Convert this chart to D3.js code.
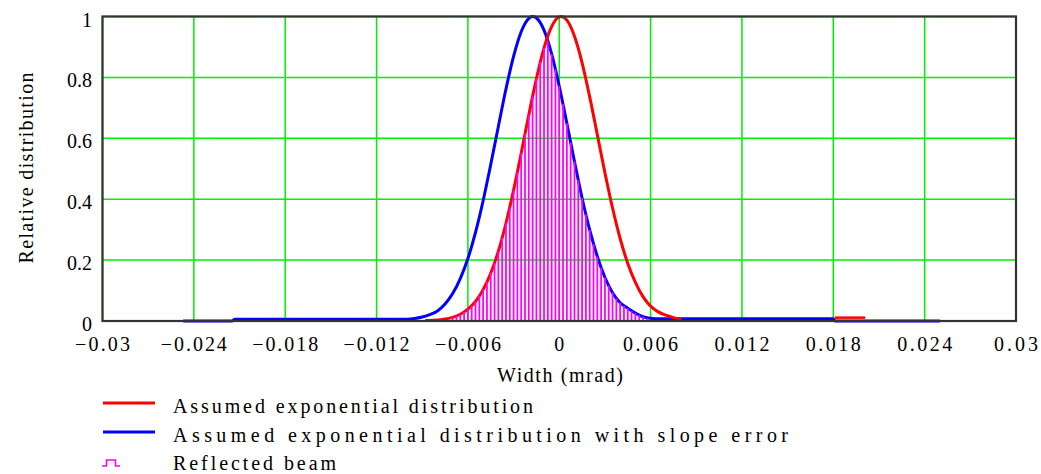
<!DOCTYPE html>
<html>
<head>
<meta charset="utf-8">
<script src="https://cdn.jsdelivr.net/npm/d3@7"></script>
</head>
<body style="margin:0">
<svg id="chart" width="1041" height="474"></svg>
<script>
// ---- data ----
const xTicks = [-0.03, -0.024, -0.018, -0.012, -0.006, 0, 0.006, 0.012, 0.018, 0.024, 0.03];
const xTickLabels = ["\u22120.03", "\u22120.024", "\u22120.018", "\u22120.012", "\u22120.006", "0", "0.006", "0.012", "0.018", "0.024", "0.03"];
const yTicks = [0, 0.2, 0.4, 0.6, 0.8, 1];
const yTickLabels = ["0", "0.2", "0.4", "0.6", "0.8", "1"];

// Assumed exponential distribution (red)
const redX = [-0.0088, -0.0085, -0.008, -0.0075, -0.007, -0.0065, -0.006, -0.0055, -0.005, -0.0045, -0.004, -0.0035, -0.003, -0.0025, -0.002, -0.0015, -0.001, -0.0005, 0, 0.00012, 0.0005, 0.001, 0.0015, 0.002, 0.0025, 0.003, 0.0035, 0.004, 0.0045, 0.005, 0.0055, 0.006, 0.0065, 0.007, 0.0075, 0.008];
const redY = [0.002, 0.002, 0.003, 0.0065, 0.012, 0.022, 0.039, 0.064, 0.103, 0.157, 0.229, 0.321, 0.430, 0.551, 0.677, 0.796, 0.897, 0.967, 0.999, 1.0, 0.988, 0.935, 0.848, 0.736, 0.612, 0.487, 0.371, 0.271, 0.189, 0.127, 0.080, 0.049, 0.030, 0.019, 0.011, 0.006];
const redTailX = [0.0181, 0.0201];
const redTailY = [0.011, 0.011];

// Assumed exponential distribution with slope error (blue)
const blueX = [-0.0247, -0.0215, -0.0213, -0.0105, -0.01, -0.0095, -0.009, -0.0085, -0.008, -0.0075, -0.007, -0.0065, -0.006, -0.0055, -0.005, -0.0045, -0.004, -0.0035, -0.003, -0.0025, -0.002, -0.00173, -0.0015, -0.001, -0.0005, 0, 0.0005, 0.001, 0.0015, 0.002, 0.0025, 0.003, 0.0035, 0.004, 0.0045, 0.005, 0.0055, 0.006, 0.0065, 0.018, 0.0181, 0.025];
const blueY = [0, 0, 0.006, 0.006, 0.006, 0.008, 0.013, 0.021, 0.033, 0.056, 0.090, 0.139, 0.205, 0.291, 0.395, 0.514, 0.639, 0.762, 0.869, 0.950, 0.994, 1.0, 0.995, 0.955, 0.877, 0.771, 0.649, 0.524, 0.404, 0.299, 0.212, 0.143, 0.093, 0.060, 0.042, 0.026, 0.014, 0.009, 0.007, 0.007, 0, 0];

// Reflected beam (magenta bars)
const barX = [-0.007, -0.00675, -0.0065, -0.00625, -0.006, -0.00575, -0.0055, -0.00525, -0.005, -0.00475, -0.0045, -0.00425, -0.004, -0.00375, -0.0035, -0.00325, -0.003, -0.00275, -0.0025, -0.00225, -0.002, -0.00175, -0.0015, -0.00125, -0.001, -0.00075, -0.0005, -0.00025, 0, 0.00025, 0.0005, 0.00075, 0.001, 0.00125, 0.0015, 0.00175, 0.002, 0.00225, 0.0025, 0.00275, 0.003, 0.00325, 0.0035, 0.00375, 0.004, 0.00425, 0.0045, 0.00475, 0.005, 0.00525, 0.0055, 0.00575];
const barY = [0.012, 0.017, 0.022, 0.030, 0.039, 0.050, 0.064, 0.082, 0.103, 0.128, 0.157, 0.191, 0.229, 0.273, 0.321, 0.373, 0.430, 0.489, 0.551, 0.614, 0.677, 0.738, 0.796, 0.850, 0.897, 0.920, 0.877, 0.827, 0.771, 0.712, 0.649, 0.586, 0.524, 0.463, 0.404, 0.350, 0.299, 0.253, 0.212, 0.175, 0.143, 0.116, 0.093, 0.074, 0.060, 0.050, 0.042, 0.033, 0.026, 0.020, 0.014, 0.009];

const legendLabels = ["Assumed exponential distribution", "Assumed exponential distribution with slope error", "Reflected beam"];
const xTitle = "Width (mrad)";
const yTitle = "Relative distribution";

// ---- drawing ----
const FONT = "'Liberation Serif'";
const FS = "20px";
const svg = d3.select("#chart");
const x = d3.scaleLinear().domain([-0.03, 0.03]).range([102.5, 1016]);
const y = d3.scaleLinear().domain([0, 1]).range([321, 16.5]);

const green = "#00ee00";
const grid = svg.append("g");
grid.selectAll("line.v").data(xTicks).join("line")
  .attr("x1", d => x(d)).attr("x2", d => x(d))
  .attr("y1", y(0)).attr("y2", y(1))
  .attr("stroke", green).attr("stroke-width", 1.5);
grid.selectAll("line.h").data(yTicks).join("line")
  .attr("x1", x(-0.03)).attr("x2", x(0.03))
  .attr("y1", d => y(d)).attr("y2", d => y(d))
  .attr("stroke", green).attr("stroke-width", 1.5);

const line = d3.line().x(d => x(d[0])).y(d => y(d[1])).curve(d3.curveMonotoneX);

svg.append("path").datum(blueX.map((v, i) => [v, blueY[i]]))
  .attr("d", line).attr("fill", "none").attr("stroke", "#0000ff").attr("stroke-width", 3);
svg.append("path").datum(redX.map((v, i) => [v, redY[i]]))
  .attr("d", line).attr("fill", "none").attr("stroke", "#ff0000").attr("stroke-width", 3);
svg.append("path").datum(redTailX.map((v, i) => [v, redTailY[i]]))
  .attr("d", line).attr("fill", "none").attr("stroke", "#ff0000").attr("stroke-width", 2.5);

const bw = 1.8;
svg.append("g").selectAll("rect").data(barX.map((v, i) => [v, barY[i]])).join("rect")
  .attr("x", d => x(d[0]) - bw / 2)
  .attr("y", d => y(d[1]))
  .attr("width", bw)
  .attr("height", d => y(0) - y(d[1]))
  .attr("fill", "#ff00ff");

// frame
svg.append("rect")
  .attr("x", x(-0.03)).attr("y", y(1))
  .attr("width", x(0.03) - x(-0.03)).attr("height", y(0) - y(1))
  .attr("fill", "none").attr("stroke", "#333").attr("stroke-width", 2.2);

// plain text helper, same styling path as a bare svg text
function addText(parent, x0, y0, str, anchor, len) {
  const t = parent.append("text").attr("x", x0).attr("y", y0)
    .style("font-family", FONT).style("font-size", FS)
    .attr("text-anchor", anchor).text(str);
  if (len) t.attr("textLength", len).attr("lengthAdjust", "spacing");
  return t;
}

// axis labels positioned with the scales
const gx = svg.append("g");
xTicks.forEach((v, i) => addText(gx, x(v), 351, xTickLabels[i], "middle", xTickLabels[i].length * 11));
const gy = svg.append("g");
yTicks.forEach((v, i) => addText(gy, 92, y(v) + 10, yTickLabels[i], "end", null));

addText(svg, 560, 382, xTitle, "middle", 126);
const yt = svg.append("g").attr("transform", "translate(33, 168) rotate(-90)");
addText(yt, 0, 0, yTitle, "middle", 191);

// legend
const lg = svg.append("g");
const rows = [
  { y: 403, tb: 413, len: 360, color: "#ff0000", type: "line" },
  { y: 432, tb: 442, len: 615, color: "#0000ff", type: "line" },
  { y: 466, tb: 470, len: 163, color: "#ff00ff", type: "bar" }
];
rows.forEach((r, i) => {
  if (r.type === "line") {
    lg.append("line").attr("x1", 103).attr("x2", 155).attr("y1", r.y).attr("y2", r.y)
      .attr("stroke", r.color).attr("stroke-width", 3);
  } else {
    lg.append("path").attr("d", `M102,${r.y} H106.5 V${r.y - 6} H115.5 V${r.y} H120`)
      .attr("fill", "none").attr("stroke", r.color).attr("stroke-width", 1.6);
  }
  addText(lg, 173, r.tb, legendLabels[i], "start", r.len);
});
</script>
</body>
</html>
